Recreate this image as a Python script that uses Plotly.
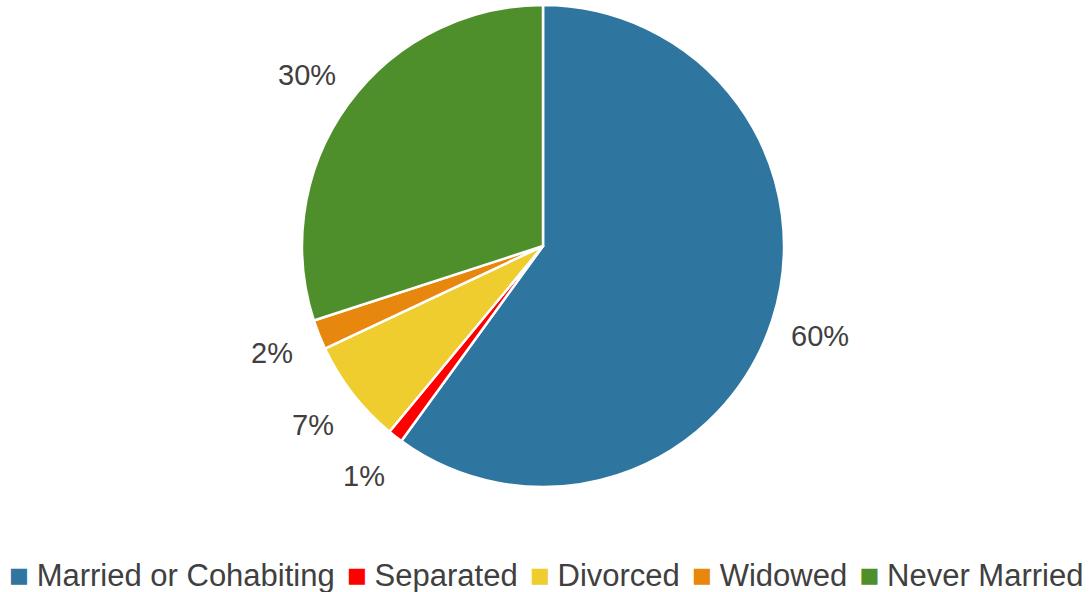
import math
import plotly.graph_objects as go

categories = ["Married or Cohabiting", "Separated", "Divorced", "Widowed", "Never Married"]
shares = [60, 1, 7, 2, 30]
colors = ["#2E75A0", "#FF0000", "#EFCD2F", "#E8870E", "#4F8F2B"]

FONT = "Liberation Sans, Arial, sans-serif"
TEXT_COLOR = "#404040"

WIDTH, HEIGHT = 1090, 592
MARGIN = dict(l=0, r=4, t=5, b=105)
plot_w = WIDTH - MARGIN["l"] - MARGIN["r"]
plot_h = HEIGHT - MARGIN["t"] - MARGIN["b"]
pie_r = min(plot_w, plot_h) / 2          # radius plotly gives the pie in px
label_r = pie_r * 1.21                   # distance of the percentage labels

fig = go.Figure(
    go.Pie(
        labels=categories,
        values=shares,
        sort=False,
        direction="clockwise",
        rotation=0,
        marker=dict(colors=colors, line=dict(color="white", width=2.5)),
        textinfo="none",
        hoverinfo="label+percent",
        showlegend=False,
    )
)

# Percentage labels placed on each slice's mid-angle, outside the pie
total = sum(shares)
cum = 0.0
for v in shares:
    mid = (cum + v / 2) / total * 2 * math.pi   # clockwise from 12 o'clock
    cum += v
    fig.add_annotation(
        text=f"{v}%",
        xref="paper",
        yref="paper",
        x=0.5 + label_r * math.sin(mid) / plot_w,
        y=0.5 + label_r * math.cos(mid) / plot_h,
        xanchor="center",
        yanchor="middle",
        showarrow=False,
        font=dict(family=FONT, size=29, color=TEXT_COLOR),
    )

# Single-line legend built from the category names and their slice colours
item = (
    "<span style='font-family:DejaVu Sans;font-size:21px;color:{c};"
    "baseline-shift:4px'>\u25A0</span>"
    "<span style='font-size:14px'>\u00a0\u00a0</span>{t}"
)
sep = "<span style='font-size:22px'>\u00a0\u00a0</span>"
legend_text = sep.join(item.format(c=c, t=t) for c, t in zip(colors, categories))
fig.add_annotation(
    text=legend_text,
    xref="paper",
    yref="paper",
    x=0.503,
    y=-0.183,
    xanchor="center",
    yanchor="middle",
    showarrow=False,
    font=dict(family=FONT, size=31, color=TEXT_COLOR),
)

fig.update_layout(
    width=WIDTH,
    height=HEIGHT,
    paper_bgcolor="white",
    plot_bgcolor="white",
    margin=dict(**MARGIN, autoexpand=False),
)

fig.write_html("out.html")
